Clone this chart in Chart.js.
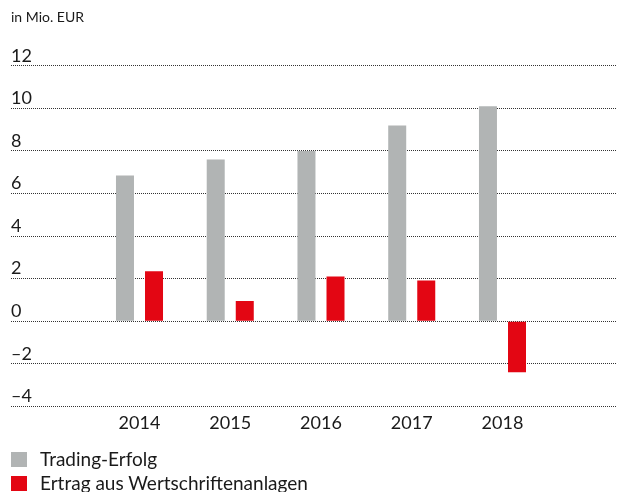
<!DOCTYPE html>
<html>
<head>
<meta charset="utf-8">
<script src="https://cdn.jsdelivr.net/npm/chart.js@4"></script>
<style>
  html, body { margin: 0; padding: 0; background: #fff; }
  #wrap { position: relative; width: 617px; height: 492px; }
  #legend { position: absolute; left: 11px; top: 447px; font-family: Lato, sans-serif; font-size: 19px; color: #1a1a1a; }
  #legend div { height: 24px; line-height: 24px; display: flex; align-items: center; }
  #legend span.box { display: inline-block; width: 16px; height: 15px; margin-right: 13px; }
</style>
</head>
<body>
<div id="wrap">
  <canvas id="myChart"></canvas>
  <div id="legend"></div>
</div>
<script>
// Jahre (Kategorien) und Werte in Mio. EUR
const years = [2014, 2015, 2016, 2017, 2018];
const tradingErfolg = [6.85, 7.6, 8.0, 9.2, 10.1];
const wertschriftenErtrag = [2.35, 0.95, 2.1, 1.92, -2.4];
const yTicks = [-4, -2, 0, 2, 4, 6, 8, 10, 12];

const font = 'Lato, sans-serif';
const canvas = document.getElementById('myChart');
const context = canvas.getContext('2d');

// Legende als HTML, damit die Einträge untereinander stehen
const htmlLegend = {
  id: 'htmlLegend',
  afterUpdate(chart) {
    const box = document.getElementById('legend');
    box.innerHTML = '';
    chart.data.datasets.forEach(ds => {
      const row = document.createElement('div');
      const sq = document.createElement('span');
      sq.className = 'box';
      sq.style.background = ds.backgroundColor;
      row.appendChild(sq);
      row.appendChild(document.createTextNode(ds.label));
      box.appendChild(row);
    });
  }
};

const config = {
  type: 'bar',
  data: {
    datasets: [{
      label: 'Trading-Erfolg',
      data: years.map((y, i) => ({ x: y, y: tradingErfolg[i] })),
      backgroundColor: '#b1b4b4'
    }, {
      label: 'Ertrag aus Wertschriftenanlagen',
      data: years.map((y, i) => ({ x: y, y: wertschriftenErtrag[i] })),
      backgroundColor: '#e30613'
    }]
  },
  options: {
    responsive: true,
    maintainAspectRatio: false,
    animation: false,
    categoryPercentage: 0.64,
    barPercentage: 0.62,
    layout: { padding: { left: 11, right: 0, top: 0, bottom: 52 } },
    plugins: {
      legend: { display: false },
      tooltip: { enabled: false },
      title: {
        display: true,
        text: 'in Mio. EUR',
        align: 'start',
        color: '#1a1a1a',
        font: { family: font, size: 14, weight: 'normal' },
        padding: { top: 9, bottom: 40 }
      }
    },
    scales: {
      x: {
        type: 'linear',
        offset: false,
        min: 2012.584,
        max: 2019.262,
        grid: { display: false, drawTicks: false, offset: false },
        border: { display: false },
        afterBuildTicks: scale => { scale.ticks = years.map(v => ({ value: v })); },
        ticks: {
          padding: 6,
          color: '#1a1a1a',
          font: { family: font, size: 18 },
          callback: v => String(v)
        }
      },
      y: {
        min: -4,
        max: 12,
        afterBuildTicks: scale => { scale.ticks = yTicks.map(v => ({ value: v })); },
        grid: {
          drawTicks: false,
          color: 'rgba(0,0,0,0.8)',
          lineWidth: 1
        },
        border: { display: false, dash: [1, 1] },
        ticks: {
          mirror: true,
          padding: 0,
          labelOffset: -10,
          color: '#1a1a1a',
          font: { family: font, size: 18 },
          callback: v => (v < 0 ? '\u2013' + Math.abs(v) : String(v))
        }
      }
    }
  },
  plugins: [htmlLegend]
};

new Chart(context, config);
</script>
</body>
</html>
